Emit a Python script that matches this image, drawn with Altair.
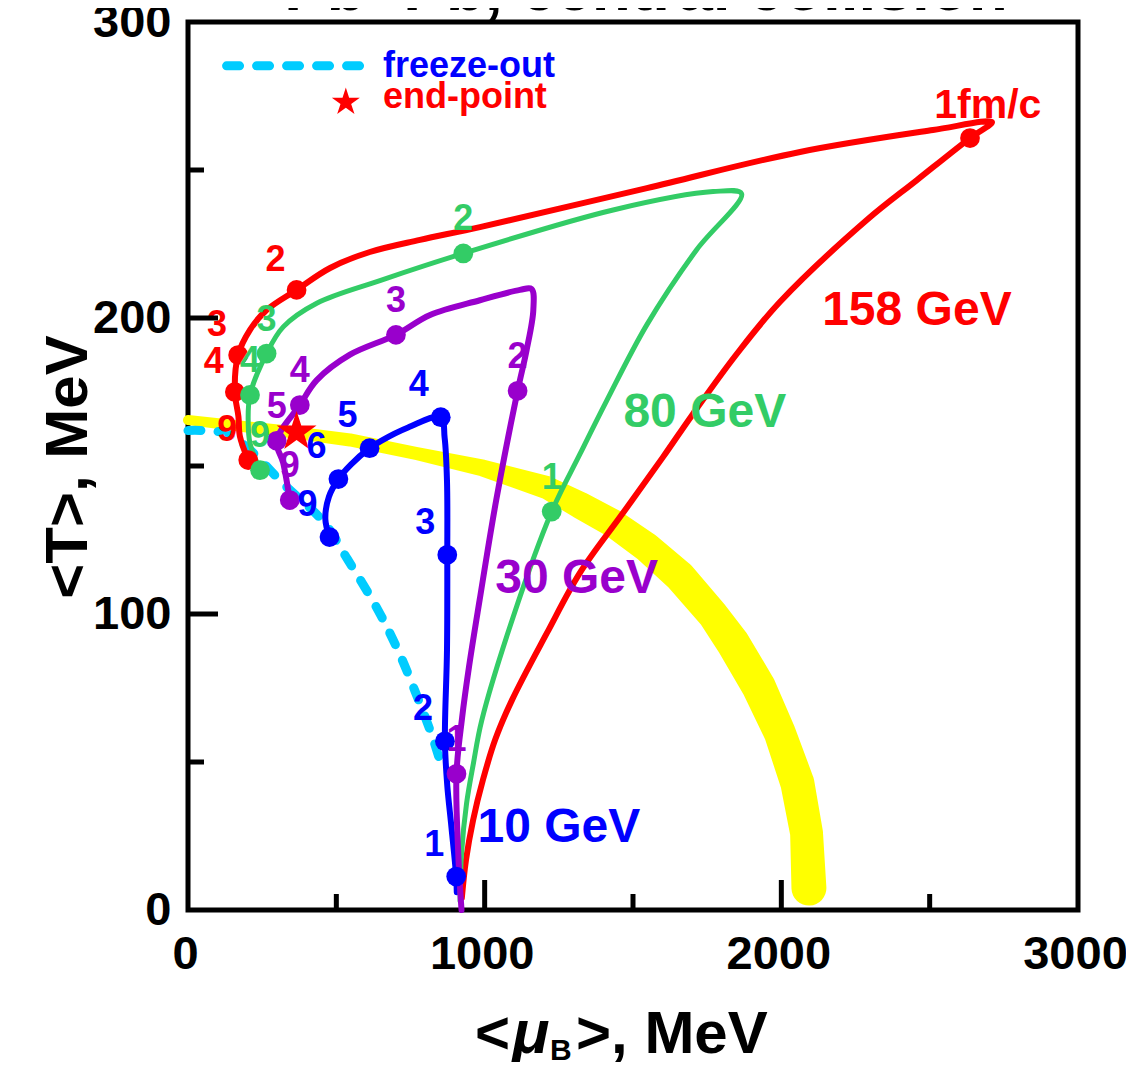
import altair as alt
import pandas as pd

# ---------------- data ----------------
# yellow band: centre line (mu_B, T) and its thickness (MeV of T)
band_mu = [0, 320, 546, 772, 994, 1210, 1321, 1432, 1547, 1658, 1770, 1837, 1924, 1995, 2054, 2085, 2093]
band_T = [165.5, 161.8, 158.8, 154.2, 149.3, 142.7, 136.8, 130.7, 122.5, 112.7, 99.7, 90.2, 75.4, 59.8, 42.9, 26.0, 7.4]
band_w = [3.4, 4.1, 4.4, 4.4, 5.7, 7.8, 9.1, 9.5, 10.1, 10.7, 10.5, 11.4, 11.5, 10.8, 11.5, 11.1, 11.8]

# freeze-out curve (cyan dashed)
fo_mu = [0, 130, 209, 321, 458, 537, 640, 708, 765, 822, 858]
fo_T = [162, 161, 155.4, 144, 131, 118.6, 101.4, 87.7, 74, 59, 47.5]

# 158 GeV trajectory (red)
red_mu = [923, 937, 961, 994, 1035, 1092, 1210, 1321, 1466, 1601, 1702, 1847, 1995, 2288, 2457, 2636, 2710,
          2511, 2063, 1547, 984, 782, 613, 479, 366, 265, 209, 169, 158, 170, 175, 203]
red_T = [4.1, 16.9, 30.4, 43.9, 57.4, 70.9, 93.6, 113.9, 134.1, 153, 167.6, 187.5, 205.4, 233.1, 246.6, 260.8,
         266.2,
         263.5, 256.1, 243.9, 230.7, 226.4, 222.3, 216.9, 209.5, 202.7, 196, 187.5, 175, 166.7, 160, 152]
red_dot_mu = [366, 169, 158, 203]
red_dot_T = [209.5, 187.5, 175, 152]
red_dot_lab = ["2", "3", "4", "9"]
red_tip_mu = [2636]
red_tip_T = [260.8]

# 80 GeV trajectory (green)
green_mu = [917, 922, 939, 962, 990, 1096, 1226, 1321, 1411, 1546, 1714, 1866, 1770, 1433, 928, 652, 434, 321,
            265, 209, 203, 209, 243]
green_T = [3, 19, 36, 49.5, 64, 99, 134.6, 154, 172, 197.6, 223, 242, 242.7, 236.5, 221.8, 212.8, 205, 197,
           188, 174, 164.4, 157.7, 148.6]
green_dot_mu = [1226, 928, 265, 209, 243]
green_dot_T = [134.6, 221.8, 188, 174, 148.6]
green_dot_lab = ["1", "2", "3", "4", "9"]

# 30 GeV trajectory (purple)
purple_mu = [922, 911, 905, 924, 947, 983, 1039, 1111, 1141, 1164, 1158, 1119, 984, 816, 701, 546, 434, 377,
             299, 321, 343]
purple_T = [0, 19, 46, 65, 82, 104.7, 138.5, 175.4, 189, 202.7, 209.8, 209.5, 206, 201, 194.3, 187.6, 179,
            170.6, 158.5, 151, 138.5]
purple_dot_mu = [905, 1111, 701, 377, 299, 343]
purple_dot_T = [46, 175.4, 194.3, 170.6, 158.5, 138.5]
purple_dot_lab = ["1", "2", "3", "4", "5", "9"]

# 10 GeV trajectory (blue)
blue_mu = [906, 904, 888, 874, 866, 873, 874, 873, 865, 852, 742, 651, 612, 549, 507, 475, 463, 477]
blue_T = [6, 11.3, 28, 42, 57, 87.7, 120, 145, 159.6, 166.5, 163, 158.5, 156, 150.5, 145.6, 139.6, 132, 126]
blue_dot_mu = [904, 866, 874, 852, 612, 507, 477]
blue_dot_T = [11.3, 57, 120, 166.5, 156, 145.6, 126]
blue_dot_lab = ["1", "2", "3", "4", "5", "6", "9"]

# end-point star
star_mu = [366]
star_T = [161.5]

# energy labels
elab_text = ["158 GeV", "80 GeV", "30 GeV", "10 GeV"]
elab_mu = [2457, 1742, 1310, 1250]
elab_T = [197.6, 163.3, 107.0, 23.1]

# legend
leg_line_mu = [130, 586]
leg_line_T = [285.2, 285.2]
leg_star_mu = [532]
leg_star_T = [272.9]
leg_text = ["freeze-out", "end-point"]
leg_text_mu = [657, 657]
leg_text_T = [281.4, 271.0]

# tick values
x_labels = [0, 1000, 2000, 3000]
y_labels = [0, 100, 200, 300]
x_major = [1000, 2000]
x_minor = [500, 1500, 2500]
y_major = [100, 200]
y_minor = [50, 150, 250]

# ---------------- styling ----------------
RED = "#FF0000"
GREEN = "#33CC66"
PURPLE = "#9900CC"
BLUE = "#0000FF"
CYAN = "#00CCFF"
YELLOW = "#FFFF00"
FONT = "Liberation Sans"
W, H = 890, 888
DOT = 390
STAR = "M0,-1L0.2245,-0.309L0.951,-0.309L0.363,0.118L0.588,0.809L0,0.382L-0.588,0.809L-0.363,0.118L-0.951,-0.309L-0.2245,-0.309Z"

xsc = alt.Scale(domain=[0, 3000], nice=False, zero=False)
ysc = alt.Scale(domain=[0, 300], nice=False, zero=False)
xax = alt.Axis(values=x_labels, title=None, labelPadding=21, labelOffset=-3, format="d")
yax = alt.Axis(values=y_labels, title=None, labelPadding=17, format="d")


def X(f="mu"):
    return alt.X(f"{f}:Q", scale=xsc, axis=xax)


def Y(f="T"):
    return alt.Y(f"{f}:Q", scale=ysc, axis=yax)


def df(mu, T, **extra):
    d = {"mu": mu, "T": T, "i": list(range(len(mu)))}
    d.update(extra)
    return pd.DataFrame(d)


layers = []

# yellow band
layers.append(
    alt.Chart(df(band_mu, band_T, w=band_w)).mark_trail(color=YELLOW).encode(
        x=X(), y=Y(), order="i:Q",
        size=alt.Size("w:Q", scale=alt.Scale(domain=[0, 10], range=[0, 29.6]), legend=None),
    )
)

# freeze-out
layers.append(
    alt.Chart(df(fo_mu, fo_T)).mark_line(
        color=CYAN, strokeWidth=9, strokeDash=[13, 17], strokeCap="round", interpolate="catmull-rom"
    ).encode(x=X(), y=Y(), order="i:Q")
)

series = [
    (blue_mu, blue_T, BLUE, 6),
    (red_mu, red_T, RED, 6),
    (green_mu, green_T, GREEN, 5),
    (purple_mu, purple_T, PURPLE, 6),
]
for mu, T, col, sw in series:
    layers.append(
        alt.Chart(df(mu, T)).mark_line(
            color=col, strokeWidth=sw, interpolate="catmull-rom", strokeCap="round", strokeJoin="round"
        ).encode(x=X(), y=Y(), order="i:Q")
    )

dots = [
    (blue_dot_mu, blue_dot_T, blue_dot_lab, BLUE, -22, -32),
    (red_dot_mu, red_dot_T, red_dot_lab, RED, -21, -30),
    (green_dot_mu, green_dot_T, green_dot_lab, GREEN, 0, -34),
    (purple_dot_mu, purple_dot_T, purple_dot_lab, PURPLE, 0, -34),
]
for mu, T, lab, col, dx, dy in dots:
    layers.append(
        alt.Chart(df(mu, T, lab=lab)).mark_circle(color=col, size=DOT, opacity=1).encode(x=X(), y=Y())
    )
layers.append(
    alt.Chart(df(red_tip_mu, red_tip_T)).mark_circle(color=RED, size=DOT, opacity=1).encode(x=X(), y=Y())
)

# end-point star
layers.append(
    alt.Chart(df(star_mu, star_T)).mark_point(shape=STAR, filled=True, color=RED, size=1764, opacity=1,
                                              strokeWidth=0).encode(x=X(), y=Y())
)

for mu, T, lab, col, dx, dy in dots:
    layers.append(
        alt.Chart(df(mu, T, lab=lab)).mark_text(
            color=col, font=FONT, fontWeight="bold", fontSize=36, dx=dx, dy=dy, align="center", baseline="middle"
        ).encode(x=X(), y=Y(), text="lab:N")
    )

# "1fm/c"
layers.append(
    alt.Chart(df([2696], [267.6], lab=["1fm/c"])).mark_text(
        color=RED, font=FONT, fontWeight="bold", fontSize=41, align="center", baseline="alphabetic"
    ).encode(x=X(), y=Y(), text="lab:N")
)

# energy labels
for t, m, T, col in zip(elab_text, elab_mu, elab_T, [RED, GREEN, PURPLE, BLUE]):
    layers.append(
        alt.Chart(df([m], [T], lab=[t])).mark_text(
            color=col, font=FONT, fontWeight="bold", fontSize=48, align="center", baseline="alphabetic"
        ).encode(x=X(), y=Y(), text="lab:N")
    )

# legend
layers.append(
    alt.Chart(df(leg_line_mu, leg_line_T)).mark_line(
        color=CYAN, strokeWidth=9, strokeDash=[13, 17], strokeCap="round"
    ).encode(x=X(), y=Y(), order="i:Q")
)
layers.append(
    alt.Chart(df(leg_star_mu, leg_star_T)).mark_point(shape=STAR, filled=True, color=RED, size=866, opacity=1,
                                                      strokeWidth=0).encode(x=X(), y=Y())
)
for t, m, T, col in zip(leg_text, leg_text_mu, leg_text_T, [BLUE, RED]):
    layers.append(
        alt.Chart(df([m], [T], lab=[t])).mark_text(
            color=col, font=FONT, fontWeight="bold", fontSize=36, align="left", baseline="alphabetic"
        ).encode(x=X(), y=Y(), text="lab:N")
    )

# inward ticks
for vals, L in [(x_major, 30), (x_minor, 16)]:
    layers.append(
        alt.Chart(pd.DataFrame({"v": vals})).mark_rule(color="black", strokeWidth=5).encode(
            x=alt.X("v:Q", scale=xsc, axis=xax), y=alt.value(H), y2=alt.value(H - L)
        )
    )
for vals, L in [(y_major, 30), (y_minor, 16)]:
    layers.append(
        alt.Chart(pd.DataFrame({"v": vals})).mark_rule(color="black", strokeWidth=5).encode(
            y=alt.Y("v:Q", scale=ysc, axis=yax), x=alt.value(0), x2=alt.value(L)
        )
    )

# title (partly cut off at the top in the original)
layers.append(
    alt.Chart(df([1544], [304], lab=["Pb+Pb, central collision"])).mark_text(
        color="black", font=FONT, fontWeight="bold", fontSize=64, align="center", baseline="alphabetic"
    ).encode(x=X(), y=Y(), text="lab:N")
)

# axis titles
title_df = pd.DataFrame({"t": ["x"]})
layers.append(
    alt.Chart(title_df).mark_text(text="<T>, MeV", font=FONT, fontWeight="bold", fontSize=60, angle=270,
                                  align="center", baseline="alphabetic", color="black").encode(
        x=alt.value(-101), y=alt.value(445))
)
layers.append(
    alt.Chart(title_df).mark_text(text="<", font=FONT, fontWeight="bold", fontSize=60, align="right",
                                  baseline="alphabetic", color="black").encode(x=alt.value(322), y=alt.value(1031))
)
layers.append(
    alt.Chart(title_df).mark_text(text="μ", font=FONT, fontWeight="bold", fontStyle="italic", fontSize=62,
                                  align="left", baseline="alphabetic", color="black").encode(
        x=alt.value(324), y=alt.value(1031))
)
layers.append(
    alt.Chart(title_df).mark_text(text="B", font=FONT, fontWeight="bold", fontSize=30, align="left",
                                  baseline="alphabetic", color="black").encode(x=alt.value(362), y=alt.value(1038))
)
layers.append(
    alt.Chart(title_df).mark_text(text=">, MeV", font=FONT, fontWeight="bold", fontSize=60, align="left",
                                  baseline="alphabetic", color="black").encode(x=alt.value(388), y=alt.value(1031))
)

chart = alt.layer(*layers).properties(
    width=W, height=H,
    autosize=alt.AutoSizeParams(type="none"),
    padding={"left": 180, "top": 14, "right": 48, "bottom": 152},
).configure_view(
    stroke="black", strokeWidth=5
).configure_axis(
    labelFont=FONT, labelFontWeight="bold", labelFontSize=47, labelColor="black",
    ticks=False, tickSize=0, domain=False, grid=False, labelFlush=False,
)

chart.save("out.html", embed_options={"renderer": "svg", "actions": False})
